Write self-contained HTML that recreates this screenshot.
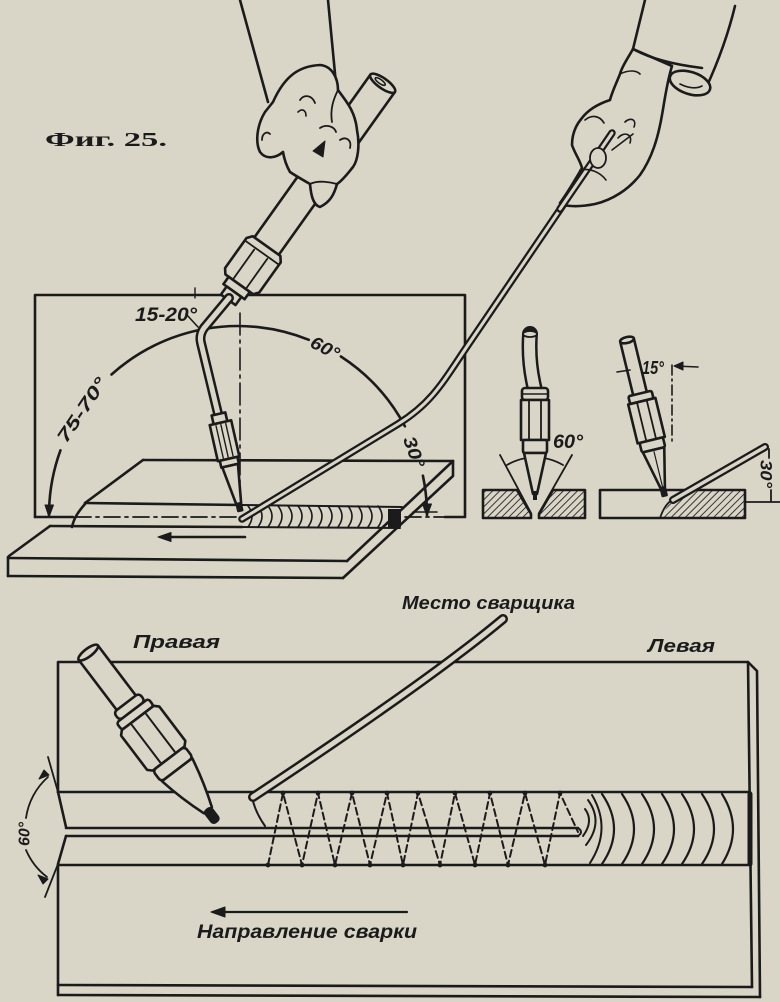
<!DOCTYPE html>
<html>
<head>
<meta charset="utf-8">
<style>
  html,body{margin:0;padding:0;background:#d9d5c7;}
  body{width:780px;height:1002px;overflow:hidden;}
  svg{display:block;}
  .lbl{font-family:"Liberation Sans",sans-serif;font-weight:bold;font-style:italic;fill:#1b1b1b;stroke:none;}
</style>
</head>
<body>
<svg width="780" height="1002" viewBox="0 0 780 1002" xmlns="http://www.w3.org/2000/svg">
<defs>
  <pattern id="h" width="5" height="5" patternUnits="userSpaceOnUse" patternTransform="rotate(45)">
    <line x1="0" y1="0" x2="0" y2="5" stroke="#1b1b1b" stroke-width="1.7"/>
  </pattern>
</defs>
<rect width="780" height="1002" fill="#d9d5c7"/>

<!-- Title -->
<text x="45" y="146" font-family="Liberation Serif, serif" font-weight="bold" font-size="20" textLength="122" lengthAdjust="spacingAndGlyphs" fill="#1b1b1b">Фиг. 25.</text>

<g stroke="#1b1b1b" stroke-width="2.6" fill="none" stroke-linecap="round" stroke-linejoin="round">

  <!-- ===== TOP DIAGRAM ===== -->
  <path d="M35,517 L35,295 L465,295 L465,517 L445,517"/>
  <path d="M35,517 L73,517"/>
  <path d="M75,517 L240,517 M405,517 L445,517" stroke-dasharray="16 5 3 5" stroke-width="1.8"/>

  <!-- big angle arc -->
  <path d="M49,515 A189,189 0 0 1 60.4,450.4 M111.5,374.5 A189,189 0 0 1 308.8,339.8 M340.9,356.5 A189,189 0 0 1 404.9,426.3 M422.9,475.7 A189,189 0 0 1 427,515"/>
  <polygon points="49,517 45,505 53.5,505" fill="#1b1b1b" stroke-width="1"/>
  <polygon points="427,516 422.5,504 431.5,504" fill="#1b1b1b" stroke-width="1"/>
  <path d="M413,512 L437,512" stroke-width="1.6"/>

  <path d="M240,313 L240,505" stroke-dasharray="22 5 3 5" stroke-width="1.6"/>

  <!-- horizontal plate -->
  <path d="M143,460 L453,461"/>
  <path d="M143,460 L85,503"/>
  <path d="M85,503 L242,505"/>
  <path d="M85,504 C78,512 74,518 72,527"/>
  <path d="M50,526 L242,527"/>
  <path d="M50,526 L9,556"/>
  <path d="M8,558 L347,561"/>
  <path d="M8,576 L343,578"/>
  <path d="M8,557 L8,576"/>
  <path d="M453,461 L347,561"/>
  <path d="M453,461 L453,476 L343,578"/>

  <!-- weld bead top -->
  <path d="M242,505 L402,507 M242,527 L400,528" stroke-width="2"/>
  <path d="M248,506 q8,10 0,21 M258,506 q8,10 0,21 M268,506 q8,10 0,21 M278,506 q8,10 0,21 M288,506 q8,10 0,21 M298,506 q8,10 0,21 M308,506 q8,10 0,21 M318,506 q8,10 0,21 M328,506 q8,10 0,21 M338,506 q8,10 0,21 M348,506 q8,10 0,21 M358,506 q8,10 0,21 M368,506 q8,10 0,21 M378,506 q8,10 0,21" stroke-width="1.6"/>
  <rect x="388" y="509" width="13" height="18" fill="#1b1b1b" stroke="none"/>
  <path d="M245,537 L168,537"/>
  <polygon points="158,537 171,532.5 171,541.5" fill="#1b1b1b" stroke-width="1"/>

  <path d="M186,314 L198,327" stroke-width="1.6"/>
  <path d="M195,288 L195,298" stroke-width="1.4"/>

  <!-- left arm sleeve -->
  <path d="M240,0 L268,102"/>
  <path d="M328,0 L336,84"/>

  <!-- torch handle & nut -->
  <g transform="translate(385,80) rotate(125.5)" fill="#d9d5c7">
    <path d="M4,-15 L206,-15 L206,15 L4,15 Z"/>
    <ellipse cx="4" cy="0" rx="5" ry="15"/>
    <ellipse cx="4" cy="3" rx="2" ry="6" stroke-width="1.6"/>
    <polygon points="204,-17 209,-21 246,-21 251,-17 251,17 246,21 209,21 204,17"/>
    <path d="M212,-21 L212,21 M214,-8 L249,-8 M214,8 L249,8" stroke-width="1.8"/>
    <rect x="251" y="-13" width="9" height="26"/>
    <rect x="260" y="-9" width="10" height="18"/>
  </g>

  <path d="M229,298 L204,328 Q199,335 201,343 L220,422" stroke-width="10"/>
  <path d="M229,298 L204,328 Q199,335 201,343 L220,422" stroke-width="5" stroke="#d9d5c7"/>

  <g transform="translate(200,332) rotate(77.3)" fill="#d9d5c7">
    <rect x="84" y="-7" width="9" height="14"/>
    <rect x="93" y="-11" width="37" height="22"/>
    <path d="M95,-5 L128,-5 M95,0 L128,0 M95,5 L128,5" stroke-width="1.4"/>
    <rect x="130" y="-9" width="7" height="18"/>
    <polygon points="137,-8 176,-2.5 176,2.5 137,8"/>
    <rect x="176" y="-2" width="7" height="4" fill="#1b1b1b"/>
  </g>

  <!-- left hand -->
  <path fill="#d9d5c7" d="M273,102 C285,75 300,66 320,65 C332,66 338,78 338,90 C345,100 355,110 357,130 C360,145 358,160 353,167 C348,173 343,180 337,184 C334,195 330,202 320,207 C313,205 311,195 310,184 C303,180 296,176 290,172 C286,165 284,158 283,152 C276,158 266,160 260,152 C255,142 257,125 265,112 Z"/>
  <path d="M262,140 C262,133 267,131 270,134" stroke-width="1.8"/>
  <path d="M300,100 C304,94 312,95 315,103" stroke-width="1.8"/>
  <path d="M298,112 C302,108 306,110 306,116" stroke-width="1.6"/>
  <path d="M338,90 C333,100 330,110 332,122" stroke-width="1.8"/>
  <path d="M320,128 C326,124 334,126 336,132" stroke-width="1.8"/>
  <path d="M340,140 C346,136 352,140 350,148" stroke-width="1.8"/>
  <path d="M310,184 C318,180 330,182 337,184" stroke-width="1.8"/>
  <polygon points="313,151 325,141 323,157" fill="#1b1b1b" stroke-width="1"/>

  <!-- welding rod (top) -->
  <path d="M242,519 L398,424 C432,403 443,382 468,345 L612,133" stroke-width="7.5"/>
  <path d="M242,519 L398,424 C432,403 443,382 468,345 L612,133" stroke-width="3" stroke="#d9d5c7"/>

  <!-- right hand -->
  <path d="M645,0 L633,49"/>
  <path d="M735,6 C728,35 718,62 706,88"/>
  <path fill="#d9d5c7" d="M633,49 C628,58 622,66 620,74 C616,84 612,92 610,100 C598,104 588,110 582,118 C575,126 572,136 572,145 C575,154 580,160 582,168 C575,180 568,192 560,203 C565,207 580,207 595,204 C612,200 628,190 640,175 C652,158 658,138 662,115 C665,98 667,82 672,66 Z"/>
  <!-- rod visible through fingers -->
  <path d="M560,209 L612,133" stroke-width="7.5"/>
  <path d="M560,209 L612,133" stroke-width="3" stroke="#d9d5c7"/>
  <path d="M633,49 C650,58 670,64 702,68"/>
  <ellipse cx="690" cy="83" rx="21" ry="11" transform="rotate(18 690 83)" fill="#d9d5c7"/>
  <path d="M680,84 C688,88 696,89 702,86" stroke-width="1.6"/>
  <path d="M620,74 C628,70 636,70 640,74" stroke-width="1.6"/>
  <path d="M585,120 C592,114 600,116 604,123" stroke-width="1.7"/>
  <ellipse cx="598" cy="158" rx="8" ry="10" stroke-width="1.8" fill="#d9d5c7"/>
  <path d="M625,122 C630,117 637,119 634,127 M618,138 C624,131 633,134 630,143 M612,150 L633,134" stroke-width="1.6"/>
  <path d="M580,170 C590,168 600,172 606,180" stroke-width="1.6"/>

  <!-- ===== SMALL DIAGRAM 1 ===== -->
  <polygon points="483,490 517,490 531,514 531,518 483,518" fill="url(#h)"/>
  <polygon points="539,514 553,490 585,490 585,518 539,518" fill="url(#h)"/>
  <path d="M500,455 L531,513 M572,455 L539,513" stroke-width="1.8"/>
  <path d="M507,465 A55,55 0 0 1 563,465" stroke-width="1.8"/>
  <path d="M530,334 Q528,362 535,390" stroke-width="16"/>
  <path d="M530,334 Q528,362 535,390" stroke-width="11" stroke="#d9d5c7" stroke-linecap="butt"/>
  <g fill="#d9d5c7">
    <rect x="522" y="388" width="26" height="12" rx="3"/>
    <path d="M522,394 L548,394" stroke-width="1.4"/>
    <rect x="521" y="400" width="28" height="40"/>
    <path d="M529,401 L529,439 M541,401 L541,439" stroke-width="1.8"/>
    <rect x="523" y="440" width="24" height="13" rx="2"/>
    <polygon points="524,453 546,453 537,494 533,494"/>
  </g>
  <rect x="533" y="491" width="4" height="9" fill="#1b1b1b" stroke="none"/>
  <ellipse cx="530" cy="334" rx="7" ry="3" fill="#d9d5c7" stroke-width="1.8"/>

  <!-- ===== SMALL DIAGRAM 2 ===== -->
  <polygon points="660,518 672,499 690,491 745,491 745,518" fill="url(#h)" stroke="none"/>
  <path d="M600,490 L745,490 L745,518 L600,518 Z"/>
  <path d="M660,518 C664,506 670,500 676,498" stroke-width="1.8"/>
  <path d="M672,365 L672,445" stroke-dasharray="10 4 2 4" stroke-width="1.6"/>
  <path d="M617,372 L630,370 M698,367 L675,366" stroke-width="1.6"/>
  <polygon points="674,366 683,362 683,370" fill="#1b1b1b" stroke-width="1"/>
  <g transform="translate(627,340) rotate(76.4)" fill="#d9d5c7">
    <path d="M0,-7 L55,-7 M0,7 L55,7"/>
    <ellipse cx="0" cy="0" rx="3" ry="7"/>
    <rect x="55" y="-12" width="8" height="24" rx="2"/>
    <rect x="63" y="-14" width="40" height="28"/>
    <path d="M64,-5 L102,-5 M64,5 L102,5" stroke-width="1.8"/>
    <rect x="103" y="-12" width="10" height="24" rx="2"/>
    <polygon points="113,-11 153,-2 153,2 113,11"/>
    <path d="M115,0 L152,0" stroke-width="1.2"/>
    <rect x="152" y="-2" width="8" height="4" fill="#1b1b1b"/>
  </g>
  <path d="M673,500 L765,447" stroke-width="8"/>
  <path d="M673,500 L765,447" stroke-width="3.5" stroke="#d9d5c7"/>
  <path d="M745,502 L780,502" stroke-width="1.8"/>
  <path d="M769,449 L769,458 M771,490 L771,501" stroke-width="1.8"/>

  <!-- ===== BOTTOM DIAGRAM ===== -->
  <path d="M58,792 L58,662 L748,662 L757,671 L760,997"/>
  <path d="M748,662 L752,987"/>
  <path d="M58,792 L750,792"/>
  <path d="M58,792 L66,827"/>
  <path d="M66,828 L578,828 M66,836 L578,836"/>
  <path d="M578,828 Q584,832 578,836" stroke-width="2"/>
  <path d="M66,836 L58,864 L58,995"/>
  <path d="M58,865 L750,865"/>
  <path d="M58,985 L752,987"/>
  <path d="M58,995 L760,997"/>

  <!-- 60 deg angle -->
  <path d="M48,757 L58,792 M58,864 L45,897" stroke-width="1.8"/>
  <path d="M48,777 A67,67 0 0 0 26,818 M26,850 A67,67 0 0 0 47,877" stroke-width="1.8"/>
  <polygon points="49,775 39,779 44,770" fill="#1b1b1b" stroke-width="1"/>
  <polygon points="48,879 38,875 43,884" fill="#1b1b1b" stroke-width="1"/>

  <!-- zigzag dashed -->
  <path d="M268,865 L283,793 L302,865 L318,793 L335,865 L352,793 L370,865 L387,793 L403,865 L418,793 L440,865 L455,793 L475,865 L490,793 L508,865 L525,793 L545,865 L560,793 L578,832" stroke-dasharray="7 4" stroke-width="2"/>
  <g fill="#1b1b1b" stroke="none">
    <circle cx="283" cy="793" r="2.4"/><circle cx="318" cy="793" r="2.4"/><circle cx="352" cy="793" r="2.4"/><circle cx="387" cy="793" r="2.4"/><circle cx="418" cy="793" r="2.4"/><circle cx="455" cy="793" r="2.4"/><circle cx="490" cy="793" r="2.4"/><circle cx="525" cy="793" r="2.4"/><circle cx="560" cy="793" r="2.4"/>
    <circle cx="268" cy="865" r="2.4"/><circle cx="302" cy="865" r="2.4"/><circle cx="335" cy="865" r="2.4"/><circle cx="370" cy="865" r="2.4"/><circle cx="403" cy="865" r="2.4"/><circle cx="440" cy="865" r="2.4"/><circle cx="475" cy="865" r="2.4"/><circle cx="508" cy="865" r="2.4"/><circle cx="545" cy="865" r="2.4"/>
  </g>
  <path d="M252,797 Q255,812 265,826" stroke-width="2"/>

  <!-- weld ripples -->
  <path d="M585,809 q9,12 -2,27 M588,800 q16,22 -2,45 M592,795 q20,34 -2,68" stroke-width="2"/>
  <path d="M602,794 q24,35 0,70 M622,794 q24,35 0,70 M642,794 q24,35 0,70 M662,794 q24,35 0,70 M682,794 q24,35 0,70 M702,794 q24,35 0,70 M722,794 q22,35 0,70" stroke-width="2.2"/>
  <path d="M750,794 L750,864" stroke-width="5"/>

  <!-- bottom rod -->
  <path d="M253,797 Q430,680 503,619" stroke-width="10"/>
  <path d="M253,797 Q430,680 503,619" stroke-width="5" stroke="#d9d5c7"/>

  <!-- bottom torch -->
  <g transform="translate(87,651) rotate(52.8)" fill="#d9d5c7">
    <path d="M2,-12 L66,-12 L66,12 L2,12 Z"/>
    <ellipse cx="2" cy="0" rx="4" ry="12"/>
    <rect x="65" y="-16" width="10" height="32" rx="4"/>
    <rect x="75" y="-20" width="9" height="40" rx="3"/>
    <polygon points="84,-20 88,-24 131,-24 135,-20 135,20 131,24 88,24 84,20"/>
    <path d="M86,-9 L133,-9 M86,9 L133,9" stroke-width="2"/>
    <rect x="135" y="-20" width="14" height="40" rx="4"/>
    <path d="M149,-19 Q175,-14 200,-5 L200,5 Q175,14 149,19 Z"/>
    <rect x="199" y="-4" width="15" height="8" rx="3" fill="#1b1b1b"/>
  </g>

  <path d="M407,912 L222,912" stroke-width="2.2"/>
  <polygon points="211,912 225,907 225,917" fill="#1b1b1b" stroke-width="1"/>
</g>

<!-- labels -->
<text class="lbl" x="135" y="321" font-size="19" textLength="62" lengthAdjust="spacingAndGlyphs">15-20°</text>
<text class="lbl" font-size="18" text-anchor="middle" dominant-baseline="central" transform="translate(82,410) rotate(-56)" textLength="74" lengthAdjust="spacingAndGlyphs">75-70°</text>
<text class="lbl" font-size="18" text-anchor="middle" dominant-baseline="central" transform="translate(325,348) rotate(27.5)" textLength="30" lengthAdjust="spacingAndGlyphs">60°</text>
<text class="lbl" font-size="18" text-anchor="middle" dominant-baseline="central" transform="translate(414,452) rotate(70)" textLength="32" lengthAdjust="spacingAndGlyphs">30°</text>
<text class="lbl" x="553" y="448" font-size="19" textLength="30" lengthAdjust="spacingAndGlyphs">60°</text>
<text class="lbl" x="642" y="374" font-size="18" textLength="22" lengthAdjust="spacingAndGlyphs">15°</text>
<text class="lbl" font-size="17" text-anchor="middle" dominant-baseline="central" transform="translate(766,474) rotate(90)" textLength="28" lengthAdjust="spacingAndGlyphs">30°</text>
<text class="lbl" font-size="16" text-anchor="middle" dominant-baseline="central" transform="translate(25,834) rotate(-90)" textLength="24" lengthAdjust="spacingAndGlyphs">60°</text>

<text class="lbl" x="133" y="648" font-size="18" textLength="87" lengthAdjust="spacingAndGlyphs">Правая</text>
<text class="lbl" x="402" y="609" font-size="18" textLength="173" lengthAdjust="spacingAndGlyphs">Место сварщика</text>
<text class="lbl" x="648" y="652" font-size="18" textLength="67" lengthAdjust="spacingAndGlyphs">Левая</text>
<text class="lbl" x="197" y="938" font-size="19" textLength="220" lengthAdjust="spacingAndGlyphs">Направление сварки</text>
</svg>
</body>
</html>
